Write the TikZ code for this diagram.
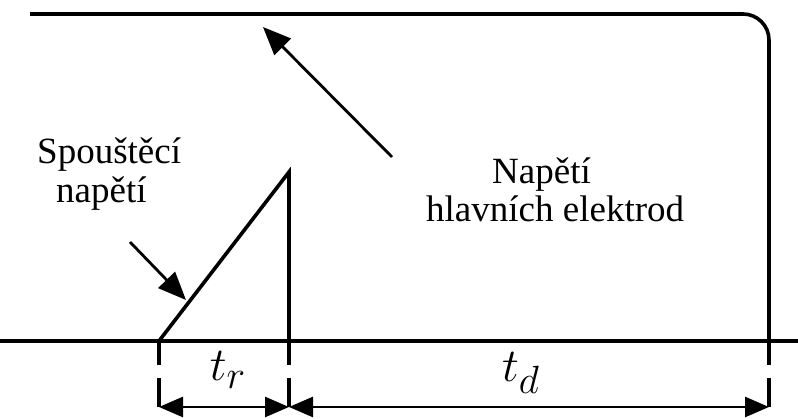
\documentclass[tikz,border=0pt]{standalone}
\usepackage{fontspec}
\setmainfont{Liberation Serif}
\usetikzlibrary{arrows.meta}
\begin{document}
\begin{tikzpicture}[x=1pt,y=-1pt,
  thick line/.style={line width=3.6pt},
  pointer/.style={line width=2.8pt,-{Triangle[length=28pt,width=23pt]}},
  dimarrow/.style={line width=2.6pt,{Triangle[length=24pt,width=20pt]}-{Triangle[length=24pt,width=20pt]}},
  lbl/.style={font=\fontsize{37}{40}\selectfont,inner sep=0pt,anchor=base west},
  mathlbl/.style={font=\Huge,scale=1.9,inner sep=0pt}]
\useasboundingbox (0,0) rectangle (798,419);
% coordinates
\coordinate (topL) at (30,14);
\coordinate (topR) at (769,14);
\coordinate (rightGap) at (769,365);
\coordinate (baseL) at (0,341);
\coordinate (baseR) at (798,341);
\coordinate (trigStart) at (159,341);
\coordinate (trigPeak) at (289,172);
\coordinate (trigFoot) at (289,365);
\coordinate (leftGap) at (159,365);
\coordinate (leftLow) at (159,378);
\coordinate (leftEnd) at (159,407);
\coordinate (midLow) at (289,378);
\coordinate (midEnd) at (289,407);
\coordinate (rightLow) at (769,378);
\coordinate (rightEnd) at (769,407);
% main electrode voltage
\draw[thick line,rounded corners=26pt,line join=round] (topL) -- (topR) -- (rightGap);
% baseline
\draw[thick line] (baseL) -- (baseR);
% trigger voltage
\draw[thick line,line join=miter] (trigStart) -- (trigPeak) -- (trigFoot);
\draw[thick line] (trigStart) -- (leftGap);
% lower extension lines
\draw[thick line] (leftLow) -- (leftEnd);
\draw[thick line] (midLow) -- (midEnd);
\draw[thick line] (rightLow) -- (rightEnd);
% dimension arrows
\draw[dimarrow] (leftEnd) -- (midEnd);
\draw[dimarrow] (midEnd) -- (rightEnd);
\node[mathlbl] (tr) at (228,370) {$t_r$};
\node[mathlbl] (td) at (521,373) {$t_d$};
% labels
\node[lbl] (spoust1) at (37,164) {Spouštěcí};
\node[lbl] (spoust2) at (56,203) {napětí};
\node[lbl] (hlavni1) at (492,184) {Napětí};
\node[lbl] (hlavni2) at (426,222) {hlavních elektrod};
% pointers
\coordinate (p1s) at (130,242);
\coordinate (p1e) at (186,300);
\draw[pointer] (p1s) -- (p1e);
\coordinate (p2s) at (392,157);
\coordinate (p2e) at (263,27);
\draw[pointer] (p2s) -- (p2e);
\end{tikzpicture}
\end{document}
